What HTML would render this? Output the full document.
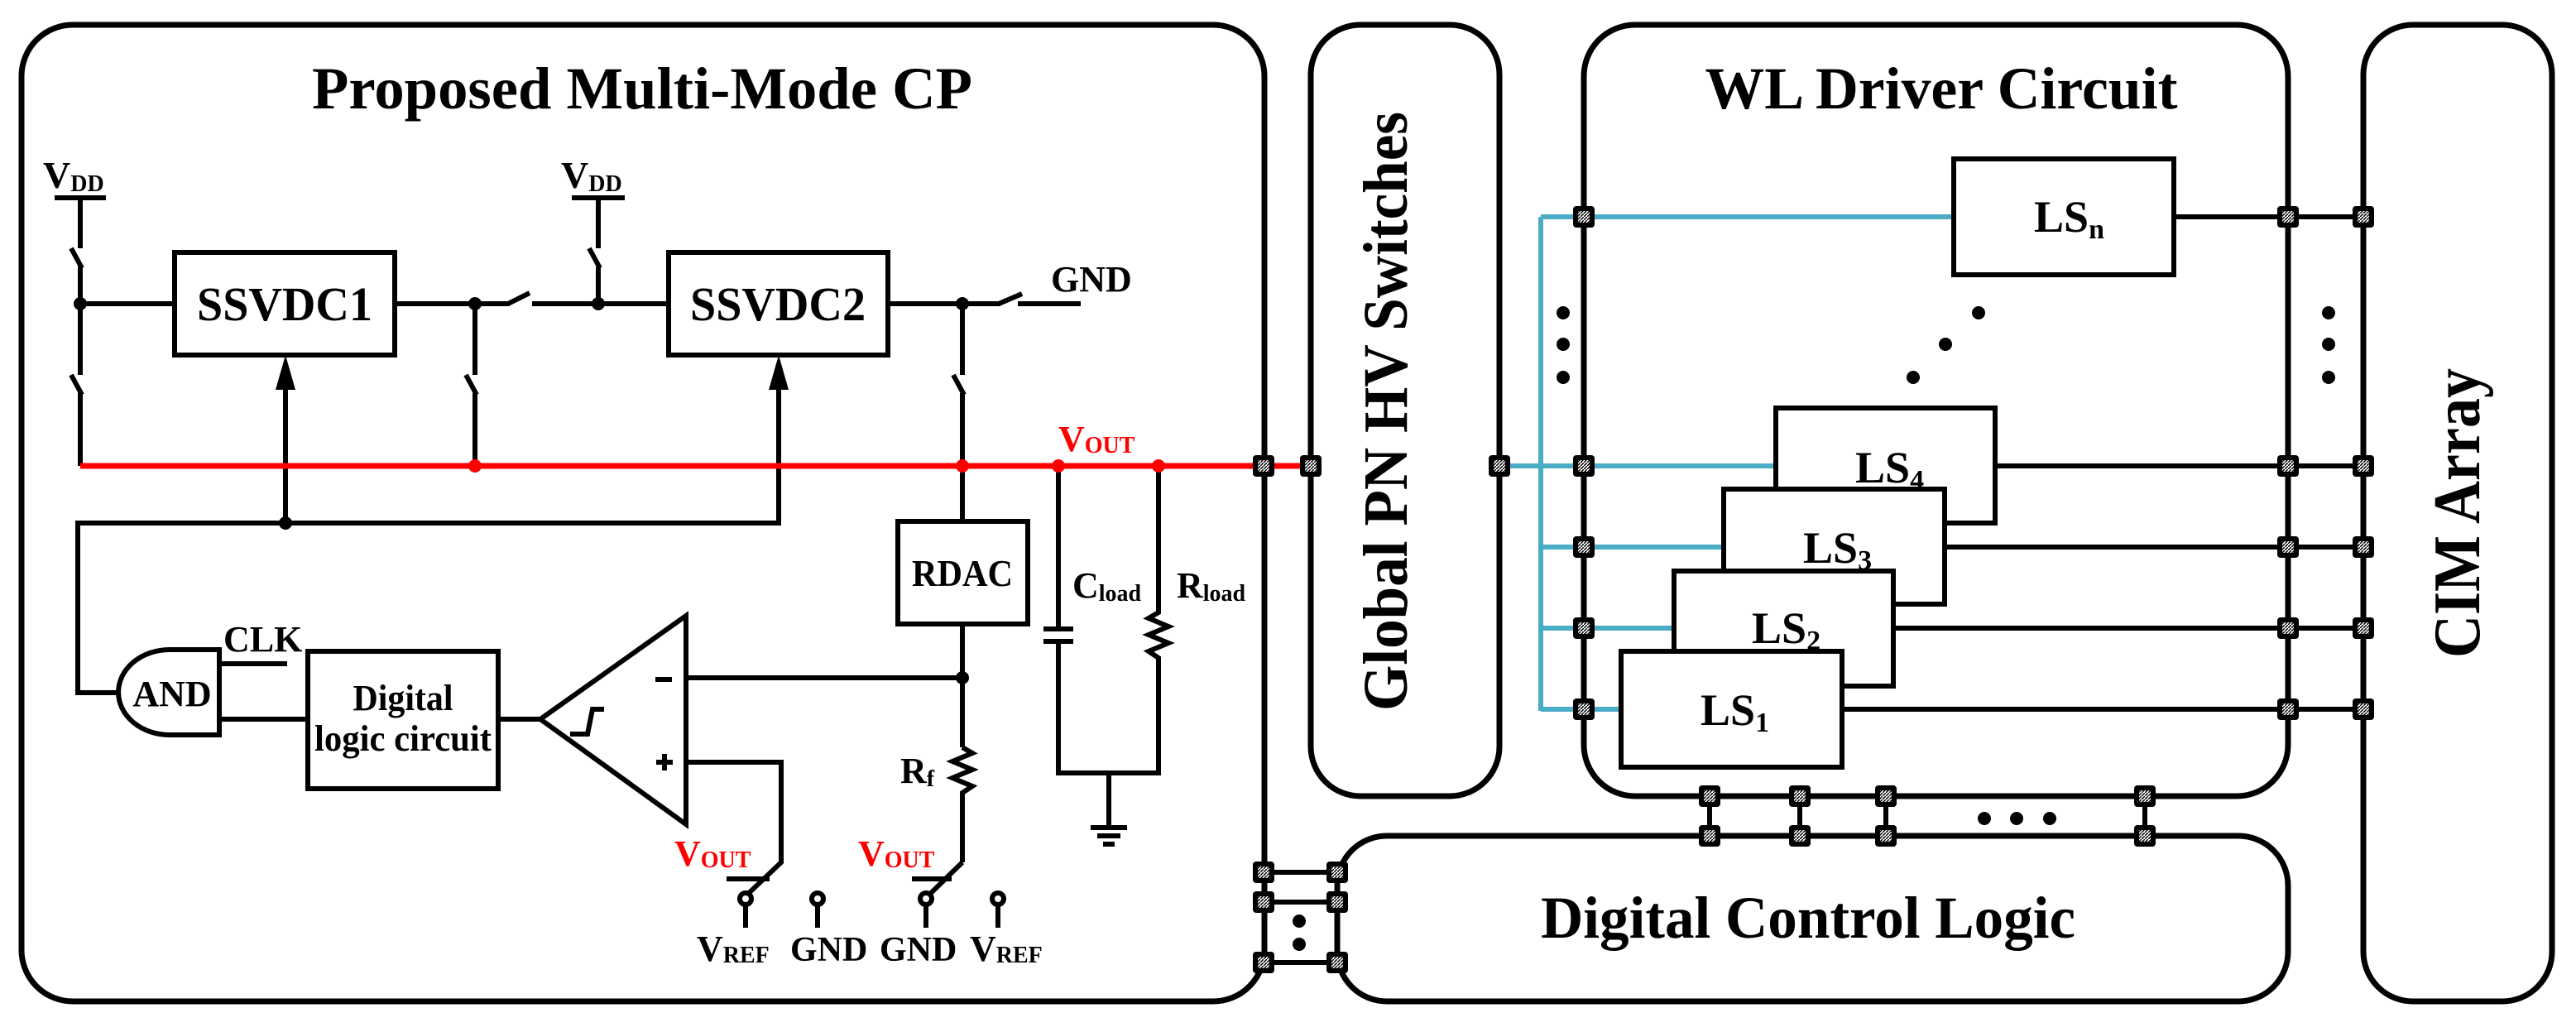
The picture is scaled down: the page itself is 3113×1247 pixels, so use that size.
<!DOCTYPE html>
<html><head><meta charset="utf-8"><style>
html,body{margin:0;padding:0;background:#fff;}
svg{display:block;}
text{font-family:"Liberation Serif",serif;font-weight:bold;fill:#000;}
</style></head><body>
<svg width="3113" height="1247" viewBox="0 0 3113 1247" xmlns="http://www.w3.org/2000/svg">
<defs>
<pattern id="h" width="4" height="4" patternUnits="userSpaceOnUse"><rect width="4" height="4" fill="#fff"/><path d="M0,4 L4,0" stroke="#000" stroke-width="1.5"/></pattern>
<g id="sq"><rect x="-13" y="-13" width="26" height="26" rx="4" fill="#000"/><rect x="-7" y="-7" width="14" height="14" fill="url(#h)"/></g>
</defs>
<g fill="none" stroke="#000" stroke-width="7">
<!-- main boxes -->
<rect x="26" y="30" width="1502" height="1180" rx="62"/>
<rect x="1584" y="30" width="228" height="932" rx="60"/>
<rect x="1914" y="30" width="851" height="932" rx="62"/>
<rect x="2856" y="30" width="228" height="1180" rx="60"/>
<rect x="1616" y="1010" width="1149" height="200" rx="60"/>
</g>
<text x="776" y="131" font-size="72" text-anchor="middle" textLength="798" lengthAdjust="spacingAndGlyphs">Proposed  Multi-Mode CP</text>
<text x="2346" y="131" font-size="72" text-anchor="middle" textLength="571" lengthAdjust="spacingAndGlyphs">WL Driver Circuit</text>
<text transform="translate(1700,497) rotate(-90)" font-size="76" text-anchor="middle" textLength="724" lengthAdjust="spacingAndGlyphs">Global PN HV Switches</text>
<text transform="translate(2996,620) rotate(-90)" font-size="80" text-anchor="middle" textLength="350" lengthAdjust="spacingAndGlyphs">CIM Array</text>
<text x="2185" y="1133" font-size="72" text-anchor="middle" textLength="646" lengthAdjust="spacingAndGlyphs">Digital Control Logic</text>

<g fill="none" stroke="#000" stroke-width="6">
<!-- VDD1 -->
<line x1="66" y1="239" x2="128" y2="239"/>
<polyline points="97,239 97,300"/>
<line x1="86" y1="300" x2="99" y2="324"/>
<polyline points="97,322 97,453"/>
<line x1="86" y1="453" x2="99" y2="477"/>
<polyline points="97,475 97,563"/>
<line x1="97" y1="367" x2="211" y2="367"/>
<rect x="211" y="305" width="266" height="124"/>
<rect x="808" y="305" width="265" height="124"/>
<line x1="477" y1="367" x2="616" y2="367"/>
<line x1="614" y1="367" x2="640" y2="354"/>
<line x1="643" y1="367" x2="808" y2="367"/>
<polyline points="574,367 574,453"/>
<line x1="563" y1="453" x2="576" y2="477"/>
<polyline points="574,475 574,563"/>
<!-- VDD2 -->
<line x1="691" y1="239" x2="755" y2="239"/>
<polyline points="723,239 723,300"/>
<line x1="712" y1="300" x2="725" y2="324"/>
<polyline points="723,322 723,367"/>
<!-- right of SSVDC2 -->
<line x1="1073" y1="367" x2="1209" y2="367"/>
<line x1="1207" y1="367" x2="1235" y2="355"/>
<line x1="1230" y1="367" x2="1306" y2="367"/>
<polyline points="1163,367 1163,453"/>
<line x1="1152" y1="453" x2="1165" y2="477"/>
<polyline points="1163,475 1163,630"/>
<rect x="1085" y="630" width="157" height="124"/>
<line x1="1163" y1="754" x2="1163" y2="903"/>
<polyline points="1163,903 1175,910 1151,920 1175,930 1151,940 1175,950 1163,958 1163,1042"/>
<line x1="1163" y1="1042" x2="1124" y2="1080"/>
<line x1="1102" y1="1062" x2="1150" y2="1062"/>
<!-- Cload Rload -->
<line x1="1279" y1="563" x2="1279" y2="760"/>
<line x1="1261" y1="760" x2="1297" y2="760"/>
<line x1="1261" y1="775" x2="1297" y2="775"/>
<polyline points="1279,775 1279,934 1400,934 1400,795 1388,787 1412,777 1388,767 1412,757 1388,747 1400,740 1400,563"/>
<line x1="1340" y1="934" x2="1340" y2="1000"/>
<line x1="1318" y1="1000" x2="1362" y2="1000"/>
<line x1="1326" y1="1010" x2="1354" y2="1010"/>
<line x1="1333" y1="1020" x2="1347" y2="1020"/>
<!-- feedback bus -->
<polyline points="941,469 941,632 94,632 94,837 143,837"/>
<line x1="345" y1="632" x2="345" y2="469"/>
<!-- AND -->
<path d="M265,785 L205,785 A62,51.5 0 0 0 205,888 L265,888 Z"/>
<line x1="265" y1="802" x2="347" y2="802"/>
<line x1="265" y1="869" x2="372" y2="869"/>
<rect x="372" y="787" width="230" height="166"/>
<line x1="602" y1="869" x2="653" y2="869"/>
<polygon points="653,869 829,744 829,996"/>
<path d="M689,887 H710 L716,857 H730"/>
<line x1="829" y1="819" x2="1163" y2="819"/>
<line x1="792" y1="821" x2="812" y2="821"/>
<line x1="793" y1="921" x2="813" y2="921"/><line x1="803" y1="911" x2="803" y2="931"/>
<polyline points="829,921 944,921 944,1042 904,1080"/>
<line x1="878" y1="1062" x2="930" y2="1062"/>
<!-- terminals -->
<line x1="901" y1="1093" x2="901" y2="1121"/><circle cx="901" cy="1086" r="7" fill="#fff"/>
<line x1="988" y1="1093" x2="988" y2="1121"/><circle cx="988" cy="1086" r="7" fill="#fff"/>
<line x1="1119" y1="1093" x2="1119" y2="1121"/><circle cx="1119" cy="1086" r="7" fill="#fff"/>
<line x1="1206" y1="1093" x2="1206" y2="1121"/><circle cx="1206" cy="1086" r="7" fill="#fff"/>
</g>
<!-- arrowheads -->
<polygon points="345,429 333,471 357,471" fill="#000"/>
<polygon points="941,429 929,471 953,471" fill="#000"/>
<!-- red line -->
<line x1="97" y1="563" x2="1584" y2="563" stroke="#f00" stroke-width="7"/>
<g fill="#000"><circle cx="97" cy="367" r="8"/><circle cx="574" cy="367" r="8"/><circle cx="723" cy="367" r="8"/><circle cx="1163" cy="367" r="8"/><circle cx="345" cy="632" r="8"/><circle cx="1163" cy="819" r="8"/></g>
<g fill="#f00"><circle cx="574" cy="563" r="8"/><circle cx="1163" cy="563" r="8"/><circle cx="1279" cy="563" r="8"/><circle cx="1400" cy="563" r="8"/></g>
<!-- CP labels -->
<text x="52" y="227" font-size="46">V<tspan font-size="28" dy="4">DD</tspan></text>
<text x="678" y="227" font-size="46">V<tspan font-size="28" dy="4">DD</tspan></text>
<text x="1270" y="352" font-size="44">GND</text>
<text x="344" y="387" font-size="58" text-anchor="middle" textLength="212" lengthAdjust="spacingAndGlyphs">SSVDC1</text>
<text x="940" y="387" font-size="58" text-anchor="middle" textLength="212" lengthAdjust="spacingAndGlyphs">SSVDC2</text>
<text x="1163" y="708" font-size="46" text-anchor="middle" textLength="122" lengthAdjust="spacingAndGlyphs">RDAC</text>
<text x="1279" y="545" font-size="44" fill="#f00" style="fill:#f00">V<tspan font-size="28" dy="2">OUT</tspan></text>
<text x="1296" y="722" font-size="44">C<tspan font-size="28" dy="4">load</tspan></text>
<text x="1422" y="722" font-size="44">R<tspan font-size="28" dy="4">load</tspan></text>
<text x="1088" y="946" font-size="44">R<tspan font-size="28" dy="4">f</tspan></text>
<text x="208" y="853" font-size="44" text-anchor="middle">AND</text>
<text x="270" y="787" font-size="44">CLK</text>
<text x="487" y="858" font-size="44" text-anchor="middle" textLength="121" lengthAdjust="spacingAndGlyphs">Digital</text>
<text x="487" y="907" font-size="44" text-anchor="middle" textLength="214" lengthAdjust="spacingAndGlyphs">logic circuit</text>
<text x="815" y="1046" font-size="44" style="fill:#f00">V<tspan font-size="28" dy="2">OUT</tspan></text>
<text x="1037" y="1046" font-size="44" style="fill:#f00">V<tspan font-size="28" dy="2">OUT</tspan></text>
<text x="842" y="1161" font-size="44">V<tspan font-size="28" dy="2">REF</tspan></text>
<text x="955" y="1161" font-size="42">GND</text>
<text x="1063" y="1161" font-size="42">GND</text>
<text x="1172" y="1161" font-size="44">V<tspan font-size="28" dy="2">REF</tspan></text>

<!-- WL driver internals -->
<g fill="none" stroke="#4bacc6" stroke-width="6">
<line x1="1812" y1="563" x2="2146" y2="563"/>
<line x1="1862" y1="262" x2="1862" y2="859"/>
<line x1="1862" y1="262" x2="2361" y2="262"/>
<line x1="1862" y1="661" x2="2083" y2="661"/>
<line x1="1862" y1="759" x2="2023" y2="759"/>
<line x1="1862" y1="857" x2="1959" y2="857"/>
</g>
<g stroke="#000" stroke-width="6">
<line x1="2627" y1="262" x2="2856" y2="262"/>
<line x1="2411" y1="563" x2="2856" y2="563"/>
<line x1="2350" y1="661" x2="2856" y2="661"/>
<line x1="2288" y1="759" x2="2856" y2="759"/>
<line x1="2226" y1="857" x2="2856" y2="857"/>
<line x1="1526" y1="1054" x2="1616" y2="1054"/>
<line x1="1526" y1="1090" x2="1616" y2="1090"/>
<line x1="1526" y1="1163" x2="1616" y2="1163"/>
<line x1="2066" y1="962" x2="2066" y2="1010"/>
<line x1="2175" y1="962" x2="2175" y2="1010"/>
<line x1="2279" y1="962" x2="2279" y2="1010"/>
<line x1="2592" y1="962" x2="2592" y2="1010"/>
</g>
<g fill="#fff" stroke="#000" stroke-width="6">
<rect x="2361" y="192" width="266" height="140"/>
<rect x="2146" y="493" width="265" height="139"/>
<rect x="2083" y="591" width="267" height="139"/>
<rect x="2023" y="690" width="265" height="139"/>
<rect x="1959" y="787" width="267" height="140"/>
</g>
<text x="2458" y="280" font-size="54">LS<tspan font-size="34" dy="8">n</tspan></text>
<text x="2242" y="583" font-size="54">LS<tspan font-size="34" dy="8">4</tspan></text>
<text x="2179" y="680" font-size="54">LS<tspan font-size="34" dy="8">3</tspan></text>
<text x="2117" y="777" font-size="54">LS<tspan font-size="34" dy="8">2</tspan></text>
<text x="2055" y="876" font-size="54">LS<tspan font-size="34" dy="8">1</tspan></text>
<g fill="#000">
<circle cx="1889" cy="378" r="8"/><circle cx="1889" cy="416" r="8"/><circle cx="1889" cy="456" r="8"/>
<circle cx="2814" cy="378" r="8"/><circle cx="2814" cy="416" r="8"/><circle cx="2814" cy="456" r="8"/>
<circle cx="2391" cy="378" r="8"/><circle cx="2351" cy="416" r="8"/><circle cx="2312" cy="456" r="8"/>
<circle cx="2398" cy="989" r="8"/><circle cx="2437" cy="989" r="8"/><circle cx="2477" cy="989" r="8"/>
<circle cx="1570" cy="1113" r="8"/><circle cx="1570" cy="1141" r="8"/>
</g>
<!-- connector squares -->
<use href="#sq" x="1527" y="563"/><use href="#sq" x="1584" y="563"/><use href="#sq" x="1812" y="563"/>
<use href="#sq" x="1914" y="262"/><use href="#sq" x="1914" y="563"/><use href="#sq" x="1914" y="661"/><use href="#sq" x="1914" y="759"/><use href="#sq" x="1914" y="857"/>
<use href="#sq" x="2765" y="262"/><use href="#sq" x="2765" y="563"/><use href="#sq" x="2765" y="661"/><use href="#sq" x="2765" y="759"/><use href="#sq" x="2765" y="857"/>
<use href="#sq" x="2856" y="262"/><use href="#sq" x="2856" y="563"/><use href="#sq" x="2856" y="661"/><use href="#sq" x="2856" y="759"/><use href="#sq" x="2856" y="857"/>
<use href="#sq" x="2066" y="962"/><use href="#sq" x="2175" y="962"/><use href="#sq" x="2279" y="962"/><use href="#sq" x="2592" y="962"/>
<use href="#sq" x="2066" y="1010"/><use href="#sq" x="2175" y="1010"/><use href="#sq" x="2279" y="1010"/><use href="#sq" x="2592" y="1010"/>
<use href="#sq" x="1527" y="1054"/><use href="#sq" x="1527" y="1090"/><use href="#sq" x="1527" y="1163"/>
<use href="#sq" x="1616" y="1054"/><use href="#sq" x="1616" y="1090"/><use href="#sq" x="1616" y="1163"/>
</svg>
</body></html>
